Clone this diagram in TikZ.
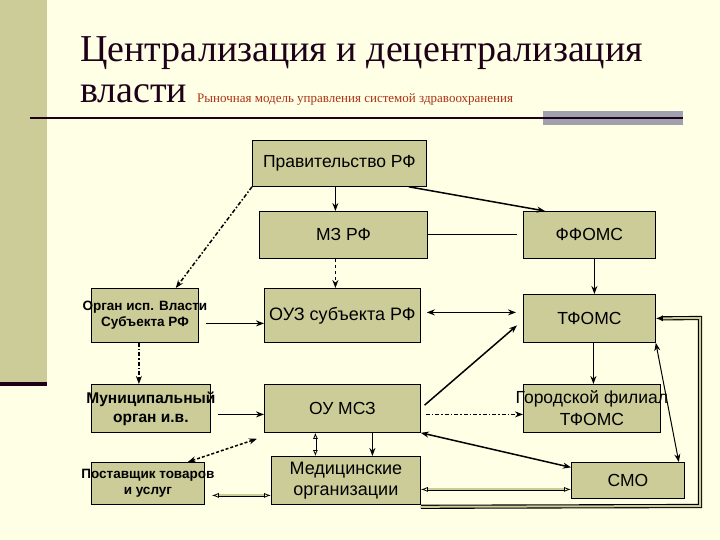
\documentclass[tikz,border=0pt]{standalone}
\usepackage{fontspec}
\setmainfont{Liberation Serif}
\setsansfont{Liberation Sans}
\usepackage{tikz}
\usetikzlibrary{arrows.meta,positioning,calc}

\definecolor{slidebg}{RGB}{255,255,229}
\definecolor{olivebox}{RGB}{204,204,153}
\definecolor{titleink}{RGB}{30,0,25}
\definecolor{subred}{RGB}{170,50,20}
\definecolor{barblue}{RGB}{160,160,175}
\newcommand{\ovr}[1]{\makebox[0pt]{#1}}

\begin{document}
\begin{tikzpicture}[
  x=1pt,y=-1pt,
  box/.style={draw,line width=0.8pt,fill=olivebox,anchor=north west,inner sep=0pt,align=center,
              font=\sffamily\fontsize{17.5}{20}\selectfont},
  lbox/.style={box,font=\sffamily\bfseries\fontsize{13.5}{16}\selectfont},
  arr/.style={-{Stealth[length=8pt,width=6pt]},line width=1.5pt},
  darr/.style={{Stealth[length=8pt,width=6pt]}-{Stealth[length=8pt,width=6pt]},line width=1.5pt},
  dashdot/.style={dash pattern=on 4pt off 2pt on 1.5pt off 2pt},
  hollow/.style={double=olivebox,double distance=2pt,line width=0.8pt},
]
% slide background
\fill[slidebg] (0,0) rectangle (720,540);
\useasboundingbox (0,0) rectangle (720,540);
\fill[olivebox] (0,0) rectangle (47,383);
\fill[titleink] (0,382) rectangle (47,386);
\fill[barblue] (543,111) rectangle (683,125);
\draw[titleink,line width=2.5pt] (30,118) -- (683,118);

% title
\node[anchor=base west,inner sep=0pt,text=titleink,font=\fontsize{38}{44}\selectfont]
  (title1) at (80,62) {Централизация и децентрализация};
\node[anchor=base west,inner sep=0pt,text=titleink,font=\fontsize{38}{44}\selectfont]
  (title2) at (80,103) {власти};
\node[anchor=base west,inner sep=0pt,text=subred,font=\fontsize{13}{14}\selectfont]
  (subtitle) at (197,103) {Рыночная модель управления системой здравоохранения};

% boxes
\node[box,minimum width=174pt,minimum height=46pt] (prav) at (252,140) {Правительство РФ};
\node[box,minimum width=168pt,minimum height=47pt] (mz) at (259,211) {МЗ РФ};
\node[box,minimum width=132pt,minimum height=47pt] (ffoms) at (523,211) {ФФОМС};
\node[lbox,minimum width=107pt,minimum height=54pt] (organ) at (91,288)
  {\ovr{Орган исп. Власти}\\\ovr{Субъекта РФ}};
\node[box,minimum width=156pt,minimum height=54pt,font=\sffamily\fontsize{18}{20}\selectfont]
  (ouz) at (264,288) {ОУЗ субъекта РФ};
\node[box,minimum width=132pt,minimum height=48pt] (tfoms) at (523,294) {ТФОМС};
\node[lbox,minimum width=119pt,minimum height=48pt,font=\sffamily\bfseries\fontsize{15.5}{19}\selectfont]
  (mun) at (91,384) {\ovr{Муниципальный}\\\ovr{орган и.в.}};
\node[box,minimum width=156pt,minimum height=48pt] (oumsz) at (264,384) {ОУ МСЗ};
\node[box,minimum width=137pt,minimum height=48pt,font=\sffamily\fontsize{17.5}{22}\selectfont]
  (gorod) at (523,384) {\ovr{Городской филиал}\\\ovr{ТФОМС}};
\node[box,minimum width=113pt,minimum height=36pt] (smo) at (571,462) {СМО};
\node[box,minimum width=149pt,minimum height=48pt,font=\sffamily\fontsize{18}{21}\selectfont]
  (med) at (271,456) {Медицинские\\организации};
\node[lbox,minimum width=113pt,minimum height=42pt,font=\sffamily\bfseries\fontsize{13.5}{16}\selectfont]
  (post) at (91,462) {\ovr{Поставщик товаров}\\\ovr{и услуг}};

% connectors
\coordinate (loopA) at (700,506);
\coordinate (loopB) at (700,318);
\draw[arr] ([xshift=-4pt]prav.south) -- ([xshift=-4pt]prav.south |- mz.north);
\draw[arr] ([xshift=-18pt]prav.south east) -- ([xshift=22pt]ffoms.north west);
\draw[arr,dashdot] (prav.south west) -- ([xshift=-23pt]organ.north east);
\draw[line width=0.9pt,shorten >=6pt] (mz.east) -- (ffoms.west);
\draw[arr,dashed] ([xshift=-8pt]mz.south) -- ([xshift=-8pt]mz.south |- ouz.north);
\draw[arr] ([xshift=5pt]ffoms.south) -- ([xshift=5pt]ffoms.south |- tfoms.north);
\draw[arr,shorten <=7pt] ([yshift=-8pt]organ.east) -- ([yshift=-8pt]organ.east -| ouz.west);
\draw[arr,dashdot] ([xshift=-6pt]organ.south) -- ([xshift=-6pt]organ.south |- mun.north);
\draw[darr,shorten <=6pt,shorten >=7pt] ([yshift=3pt]ouz.east) -- ([yshift=3pt]ouz.east -| tfoms.west);
\draw[arr,shorten <=7pt] ([yshift=-6pt]mun.east) -- ([yshift=-6pt]mun.east -| oumsz.west);
\draw[arr,shorten <=5pt] (oumsz.east) -- ([xshift=-6pt,yshift=-7pt]tfoms.west);
\draw[arr,dashdot,shorten <=5pt] ([yshift=-6pt]oumsz.east) -- ([yshift=-6pt]oumsz.east -| gorod.west);
\draw[darr] (oumsz.south east) -- ([yshift=13pt]smo.west);
\draw[arr] ([xshift=4pt]tfoms.south) -- ([xshift=4pt]tfoms.south |- gorod.north);
\draw[darr,line width=1pt] (tfoms.south east) -- ([xshift=-6pt]smo.north east);
\draw[hollow,double=white,{Latex[open,length=6pt,width=5pt]}-{Latex[open,length=6pt,width=5pt]}]
  ([xshift=-27pt]oumsz.south) -- ([xshift=-27pt]oumsz.south |- med.north);
\draw[arr] ([xshift=30pt]oumsz.south) -- ([xshift=30pt]oumsz.south |- med.north);
\draw[darr,densely dashed] ([xshift=-17pt]post.north east) -- ([xshift=-7pt,yshift=-6pt]oumsz.south west);
\draw[hollow,{Latex[open,length=7pt,width=5pt]}-{Latex[open,length=7pt,width=5pt]},shorten <=7pt]
  ([yshift=-12pt]post.east) -- ([yshift=-12pt]post.east -| med.west);
\draw[hollow,{Latex[open,length=7pt,width=5pt]}-{Latex[open,length=7pt,width=5pt]}]
  ([yshift=-9pt]med.east) -- ([yshift=-9pt]med.east -| smo.west);
\draw[hollow,line width=1.1pt,-{Latex[length=7pt,width=6pt]}]
  ([yshift=-2pt]med.south east) -- (loopA) -- (loopB) -- (tfoms.east);
\end{tikzpicture}
\end{document}
